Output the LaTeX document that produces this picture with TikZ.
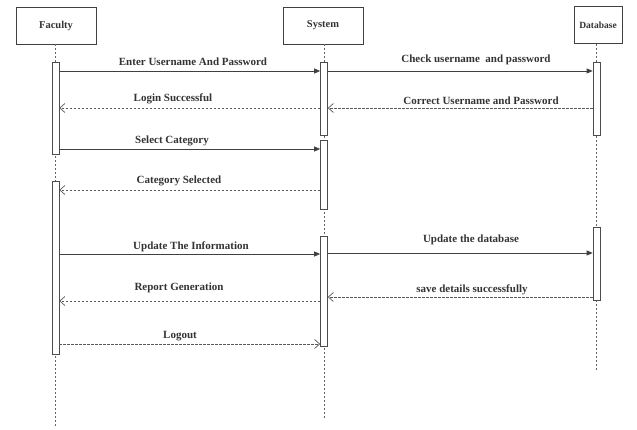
\documentclass[tikz,border=0pt]{standalone}
\usepackage{fontspec}
\setmainfont{Liberation Serif}
\usetikzlibrary{arrows.meta}
\begin{document}
\begin{tikzpicture}[x=1pt,y=-1pt,
  actor/.style={draw=black!75,line width=0.7pt,minimum width=80pt,minimum height=37pt,inner sep=0pt,font=\fontsize{10.5}{12}\selectfont\bfseries,text=black!80},
  bar/.style={draw=black!70,fill=white,line width=0.7pt,minimum width=7pt,inner sep=0pt},
  life/.style={draw=black!60,dashed,dash pattern=on 2pt off 2pt,line width=0.6pt},
  call/.style={draw=black!75,line width=0.8pt,-{Triangle[length=6pt,width=5pt]}},
  reply/.style={draw=black!65,line width=0.7pt,dash pattern=on 2.5pt off 1.5pt,-{Straight Barb[length=5pt,width=9pt]}},
  lbl/.style={font=\fontsize{11}{12}\selectfont\bfseries,text=black!80,inner sep=0pt}
]
\useasboundingbox (0,0) rectangle (637,430);
% actors
\node[actor] (fac) at (56,25.5) {Faculty};
\node[actor] (sys) at (323,25.5) {System};
\node[actor,minimum width=48pt,font=\fontsize{9.5}{12}\selectfont\bfseries] (db) at (598,25) {Database};
% lifeline ends
\coordinate (facend) at (55.5,427);
\coordinate (sysend) at (324,420);
\coordinate (dbend) at (596.5,370);
\draw[life] (fac.south -| facend) -- (facend);
\draw[life] (sys.south -| sysend) -- (sysend);
\draw[life] (db.south -| dbend) -- (dbend);
% activation bars
\node[bar,minimum height=92pt] (fa1) at (55.5,108) {};
\node[bar,minimum height=173pt] (fa2) at (55.5,267.5) {};
\node[bar,minimum height=73pt] (sa1) at (324,98.5) {};
\node[bar,minimum height=69pt] (sa2) at (324,174.5) {};
\node[bar,minimum height=110pt] (sa3) at (324,291) {};
\node[bar,minimum height=73pt] (da1) at (596.5,98.5) {};
\node[bar,minimum height=73pt] (da2) at (596.5,263.5) {};
% messages
\draw[call] (fa1.east |- 0,71) -- (sa1.west |- 0,71);
\node[lbl] (l1) at (193,62) {Enter Username And Password};
\draw[call] (sa1.east |- 0,71) -- (da1.west |- 0,71);
\node[lbl] (l2) at (476,60) {Check username\ \ and password};
\draw[reply] (sa1.west |- 0,108) -- (fa1.east |- 0,108);
\node[lbl] (l3) at (173,99) {Login Successful};
\draw[reply] (da1.west |- 0,108) -- (sa1.east |- 0,108);
\node[lbl] (l4) at (481,101) {Correct Username and Password};
\draw[call] (fa1.east |- 0,149) -- (sa2.west |- 0,149);
\node[lbl] (l5) at (172,141) {Select Category};
\draw[reply] (sa2.west |- 0,190) -- (fa2.east |- 0,190);
\node[lbl] (l6) at (179,181) {Category Selected};
\draw[call] (fa2.east |- 0,254) -- (sa3.west |- 0,254);
\node[lbl] (l7) at (191,247) {Update The Information};
\draw[call] (sa3.east |- 0,253) -- (da2.west |- 0,253);
\node[lbl] (l8) at (471,240) {Update the database};
\draw[reply] (sa3.west |- 0,301) -- (fa2.east |- 0,301);
\node[lbl] (l9) at (179,288) {Report Generation};
\draw[reply] (da2.west |- 0,297) -- (sa3.east |- 0,297);
\node[lbl] (l10) at (472,290) {save details successfully};
\draw[reply] (fa2.east |- 0,344) -- (sa3.west |- 0,344);
\node[lbl] (l11) at (180,336) {Logout};
\end{tikzpicture}
\end{document}
